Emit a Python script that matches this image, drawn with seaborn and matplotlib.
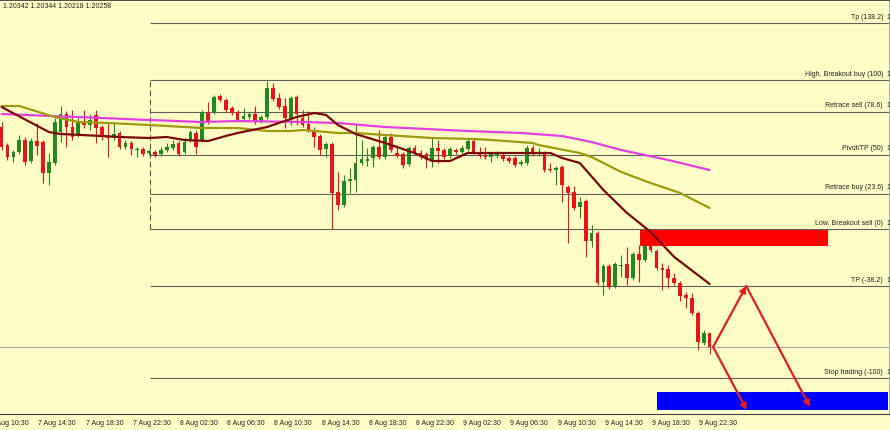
import seaborn as sns
import matplotlib.pyplot as plt
import matplotlib.transforms as mtransforms
from matplotlib.patches import Rectangle
import pandas as pd
import numpy as np

# -------------------------------
# 30 minute candles, 7 Aug 11:30 -> 9 Aug 23:30
# -------------------------------
opens = [
    1.21578, 1.21470, 1.21398, 1.21428, 1.21500, 1.21374, 1.21494, 1.21488, 1.21302, 1.21362,
    1.21548, 1.21656, 1.21578, 1.21530, 1.21614, 1.21590, 1.21650, 1.21578, 1.21530, 1.21512,
    1.21542, 1.21458, 1.21482, 1.21440, 1.21446, 1.21422, 1.21428, 1.21416, 1.21440, 1.21452,
    1.21482, 1.21428, 1.21500, 1.21542, 1.21500, 1.21662, 1.21668, 1.21764, 1.21740, 1.21692,
    1.21668, 1.21626, 1.21638, 1.21656, 1.21614, 1.21638, 1.21812, 1.21752, 1.21704, 1.21632,
    1.21758, 1.21632, 1.21596, 1.21548, 1.21524, 1.21446, 1.21476, 1.21188, 1.21110, 1.21254,
    1.21260, 1.21362, 1.21374, 1.21392, 1.21458, 1.21398, 1.21518, 1.21422, 1.21416, 1.21356,
    1.21452, 1.21422, 1.21416, 1.21380, 1.21452, 1.21440, 1.21404, 1.21440, 1.21428, 1.21446,
    1.21494, 1.21422, 1.21410, 1.21398, 1.21404, 1.21410, 1.21392, 1.21392, 1.21356, 1.21362,
    1.21452, 1.21422, 1.21416, 1.21326, 1.21320, 1.21338, 1.21218, 1.21188, 1.21098, 1.21134,
    1.20894, 1.20942, 1.20648, 1.20744, 1.20624, 1.20744, 1.20756, 1.20672, 1.20816, 1.20780,
    1.20870, 1.20834, 1.20732, 1.20726, 1.20672, 1.20642, 1.20570, 1.20552, 1.20462, 1.20282,
    1.20342,
]
highs = [
    1.21608, 1.21482, 1.21440, 1.21530, 1.21518, 1.21512, 1.21602, 1.21500, 1.21422, 1.21632,
    1.21704, 1.21674, 1.21680, 1.21638, 1.21680, 1.21656, 1.21680, 1.21590, 1.21608, 1.21602,
    1.21554, 1.21500, 1.21494, 1.21458, 1.21458, 1.21446, 1.21440, 1.21458, 1.21482, 1.21500,
    1.21494, 1.21512, 1.21560, 1.21560, 1.21680, 1.21728, 1.21770, 1.21776, 1.21752, 1.21704,
    1.21680, 1.21692, 1.21668, 1.21704, 1.21650, 1.21854, 1.21842, 1.21782, 1.21752, 1.21764,
    1.21770, 1.21680, 1.21674, 1.21578, 1.21536, 1.21488, 1.21488, 1.21308, 1.21290, 1.21332,
    1.21596, 1.21500, 1.21452, 1.21470, 1.21560, 1.21530, 1.21542, 1.21470, 1.21428, 1.21464,
    1.21470, 1.21440, 1.21428, 1.21512, 1.21500, 1.21452, 1.21458, 1.21452, 1.21470, 1.21506,
    1.21506, 1.21458, 1.21458, 1.21428, 1.21434, 1.21422, 1.21404, 1.21404, 1.21380, 1.21470,
    1.21470, 1.21452, 1.21434, 1.21362, 1.21344, 1.21350, 1.21230, 1.21224, 1.21158, 1.21146,
    1.20990, 1.20954, 1.20756, 1.20756, 1.20768, 1.20810, 1.20858, 1.20828, 1.20870, 1.20882,
    1.20888, 1.20846, 1.20762, 1.20750, 1.20702, 1.20654, 1.20588, 1.20582, 1.20474, 1.20360,
    1.20344,
]
lows = [
    1.21440, 1.21380, 1.21368, 1.21416, 1.21350, 1.21362, 1.21410, 1.21242, 1.21230, 1.21350,
    1.21488, 1.21458, 1.21500, 1.21518, 1.21572, 1.21560, 1.21482, 1.21500, 1.21398, 1.21500,
    1.21446, 1.21446, 1.21410, 1.21398, 1.21404, 1.21410, 1.21398, 1.21404, 1.21428, 1.21440,
    1.21404, 1.21416, 1.21488, 1.21416, 1.21488, 1.21596, 1.21656, 1.21728, 1.21668, 1.21650,
    1.21608, 1.21614, 1.21626, 1.21596, 1.21602, 1.21626, 1.21734, 1.21686, 1.21572, 1.21590,
    1.21590, 1.21578, 1.21548, 1.21458, 1.21410, 1.21398, 1.20966, 1.21080, 1.21098, 1.21182,
    1.21188, 1.21350, 1.21344, 1.21338, 1.21386, 1.21386, 1.21428, 1.21392, 1.21332, 1.21344,
    1.21410, 1.21386, 1.21332, 1.21338, 1.21362, 1.21386, 1.21392, 1.21416, 1.21416, 1.21434,
    1.21416, 1.21392, 1.21386, 1.21368, 1.21392, 1.21374, 1.21362, 1.21338, 1.21344, 1.21350,
    1.21404, 1.21404, 1.21308, 1.21308, 1.21230, 1.21128, 1.20882, 1.21080, 1.21032, 1.20798,
    1.20858, 1.20630, 1.20570, 1.20606, 1.20612, 1.20678, 1.20630, 1.20660, 1.20648, 1.20768,
    1.20828, 1.20720, 1.20600, 1.20612, 1.20630, 1.20534, 1.20492, 1.20450, 1.20240, 1.20270,
    1.20218,
]
closes = [
    1.21458, 1.21398, 1.21428, 1.21500, 1.21368, 1.21494, 1.21464, 1.21302, 1.21368, 1.21608,
    1.21656, 1.21578, 1.21518, 1.21614, 1.21590, 1.21620, 1.21572, 1.21518, 1.21512, 1.21536,
    1.21458, 1.21482, 1.21446, 1.21446, 1.21416, 1.21434, 1.21410, 1.21440, 1.21458, 1.21476,
    1.21416, 1.21488, 1.21548, 1.21458, 1.21668, 1.21608, 1.21758, 1.21740, 1.21680, 1.21662,
    1.21620, 1.21644, 1.21656, 1.21608, 1.21638, 1.21812, 1.21746, 1.21698, 1.21632, 1.21752,
    1.21656, 1.21590, 1.21560, 1.21518, 1.21440, 1.21476, 1.21182, 1.21110, 1.21254, 1.21266,
    1.21362, 1.21386, 1.21386, 1.21458, 1.21398, 1.21518, 1.21440, 1.21404, 1.21350, 1.21452,
    1.21422, 1.21398, 1.21380, 1.21452, 1.21434, 1.21398, 1.21446, 1.21428, 1.21452, 1.21494,
    1.21428, 1.21404, 1.21398, 1.21416, 1.21422, 1.21386, 1.21374, 1.21350, 1.21368, 1.21452,
    1.21416, 1.21428, 1.21320, 1.21320, 1.21332, 1.21230, 1.21182, 1.21092, 1.21128, 1.20894,
    1.20942, 1.20642, 1.20744, 1.20618, 1.20756, 1.20750, 1.20672, 1.20816, 1.20780, 1.20870,
    1.20840, 1.20732, 1.20720, 1.20672, 1.20642, 1.20564, 1.20552, 1.20462, 1.20288, 1.20342,
    1.20258,
]

# moving averages read at a few candles (candle index, price)
ma_fast_idx = [0, 8, 10, 17, 20, 25, 28, 31, 35, 38, 40, 45, 50, 53, 55, 57, 60, 65, 70, 73,
               76, 79, 84, 91, 93, 95, 98, 102, 106, 110, 114, 120]
ma_fast = [1.21698, 1.21548, 1.21536, 1.21524, 1.21518, 1.21512, 1.21518, 1.21500, 1.21494,
           1.21524, 1.21542, 1.21578, 1.21638, 1.21662, 1.21650, 1.21590, 1.21536, 1.21482,
           1.21422, 1.21374, 1.21374, 1.21422, 1.21422, 1.21422, 1.21422, 1.21392, 1.21362,
           1.21200, 1.21062, 1.20948, 1.20798, 1.20636]
ma_mid_idx = [0, 3, 9, 13, 18, 25, 34, 40, 45, 49, 51, 57, 60, 65, 73, 80, 83, 90, 91, 98,
              100, 105, 110, 115, 120]
ma_mid = [1.21704, 1.21704, 1.21638, 1.21608, 1.21602, 1.21590, 1.21572, 1.21572, 1.21554,
          1.21554, 1.21560, 1.21542, 1.21542, 1.21530, 1.21512, 1.21506, 1.21500, 1.21482,
          1.21470, 1.21422, 1.21398, 1.21308, 1.21242, 1.21182, 1.21092]
ma_slow_idx = [0, 17, 25, 34, 40, 51, 57, 65, 79, 88, 95, 100, 105, 113, 120]
ma_slow = [1.21656, 1.21632, 1.21620, 1.21608, 1.21614, 1.21608, 1.21602, 1.21578, 1.21554,
           1.21542, 1.21524, 1.21488, 1.21440, 1.21380, 1.21320]

# fibonacci levels
fib_names = ["Tp (138.2)", "High. Breakout buy (100)", "Retrace sell (78.6)", "Pivot/TP (50)",
             "Retrace buy (23.6)", "Low. Breakout sell (0)", "TP (-38.2)", "Stop trading (-100)"]
fib_prices = [1.22202, 1.21860, 1.21669, 1.21413, 1.21177, 1.20966, 1.20624, 1.20072]
fib_start = 25.2
bid_price = 1.20258

# zones (start candle, end candle, low, high)
red_zone = (108.2, 140.1, 1.20864, 1.20960)
blue_zone = (111.1, 150.2, 1.19880, 1.19988)

# projected path
path_up = [(120.6, 1.20258), (126.2, 1.20624)]
path_down = [(126.2, 1.20624), (137.0, 1.19898)]
path_direct = [(120.6, 1.20258), (126.3, 1.19880)]

tick_labels = ["7 Aug 10:30", "7 Aug 14:30", "7 Aug 18:30", "7 Aug 22:30",
               "8 Aug 02:30", "8 Aug 06:30", "8 Aug 10:30", "8 Aug 14:30",
               "8 Aug 18:30", "8 Aug 22:30", "9 Aug 02:30", "9 Aug 06:30",
               "9 Aug 10:30", "9 Aug 14:30", "9 Aug 18:30", "9 Aug 22:30"]
first_tick = -2   # candle index of the first label (8 candles per label)

# -------------------------------
# Styling
# -------------------------------
bg = "#FFFDC6"
sns.set_style("white", {"axes.facecolor": bg, "figure.facecolor": bg})
plt.rcParams["font.family"] = ["Liberation Sans", "DejaVu Sans"]

df = pd.DataFrame({"open": opens, "high": highs, "low": lows, "close": closes})
df["i"] = np.arange(len(df))
up = df["close"] >= df["open"]
colors = np.where(up, "#1F8A1F", "#E8141A")

fig = plt.figure(figsize=(8.9, 4.3), dpi=100)
ax = fig.add_axes([0, 16 / 430, 889 / 890, 414 / 430])

# fib lines
for p in fib_prices:
    ax.hlines(p, fib_start, 160, color="#5f5f5f", lw=0.8, zorder=1)
ax.vlines(fib_start, fib_prices[5], fib_prices[1], color="#555555", lw=0.8,
          linestyles=(0, (5, 3)), zorder=1)
ax.axhline(bid_price, color="#a8a8a8", lw=0.8, zorder=1)

# candles
ax.vlines(df["i"], df["low"], df["high"], color=colors, lw=0.8, zorder=2)
body = (df["close"] - df["open"]).abs().clip(lower=0.00003)
ax.bar(df["i"], body, bottom=df[["open", "close"]].min(axis=1), width=0.62,
       color=colors, linewidth=0, zorder=3)

# moving averages
sns.lineplot(x=ma_slow_idx, y=ma_slow, color="#E040E0", lw=1.6, ax=ax, zorder=4)
sns.lineplot(x=ma_mid_idx, y=ma_mid, color="#9C9A12", lw=1.6, ax=ax, zorder=4)
sns.lineplot(x=ma_fast_idx, y=ma_fast, color="#7A0A0A", lw=1.6, ax=ax, zorder=5)

# zones
ax.add_patch(Rectangle((red_zone[0], red_zone[2]), red_zone[1] - red_zone[0],
                       red_zone[3] - red_zone[2], color="#FF0000", lw=0, zorder=3))
ax.add_patch(Rectangle((blue_zone[0], blue_zone[2]), blue_zone[1] - blue_zone[0],
                       blue_zone[3] - blue_zone[2], color="#0000FF", lw=0, zorder=3))

# arrows
for (x0, y0), (x1, y1) in [path_up, path_down, path_direct]:
    ax.annotate("", xy=(x1, y1), xytext=(x0, y0),
                arrowprops=dict(arrowstyle="-|>", color="#E01E1E", lw=1.6,
                                mutation_scale=9, shrinkA=0, shrinkB=0), zorder=6)

# fib labels
for name, p in zip(fib_names, fib_prices):
    ax.text(149.4, p + 0.00014, name, ha="right", va="bottom", fontsize=5, color="#222222")
    ax.text(150.05, p + 0.00014, f"{p:.5f}", ha="left", va="bottom", fontsize=5,
            color="#222222", clip_on=False)

ax.set_xlim(-0.27, 150.4)
ax.set_ylim(1.19856, 1.22340)

# x axis
tick_pos = [first_tick + 8 * k for k in range(len(tick_labels))]
ax.set_xticks(tick_pos[1:])
ax.set_xticklabels([])
ax.set_yticks([])
ax.tick_params(axis="x", direction="out", length=3, width=0.7, color="#404040")
trans = mtransforms.blended_transform_factory(ax.transData, ax.transAxes)
for pos, lab in zip(tick_pos, tick_labels):
    ax.text(pos + 0.25, -0.022, lab, transform=trans, ha="left", va="center",
            fontsize=5, color="#222222", clip_on=False)

for side in ["left"]:
    ax.spines[side].set_visible(False)
ax.spines["top"].set_color("#303030")
ax.spines["top"].set_linewidth(1.2)
ax.spines["bottom"].set_color("#404040")
ax.spines["bottom"].set_linewidth(0.8)
ax.spines["right"].set_color("#b0b0b0")
ax.spines["right"].set_linewidth(0.8)
ax.set_xlabel("")
ax.set_ylabel("")

fig.text(3 / 890, 1 - 6 / 430, "1.20342 1.20344 1.20218 1.20258", ha="left",
         va="center", fontsize=5, color="#222222")

plt.savefig("out.png", dpi=100, facecolor=bg)
